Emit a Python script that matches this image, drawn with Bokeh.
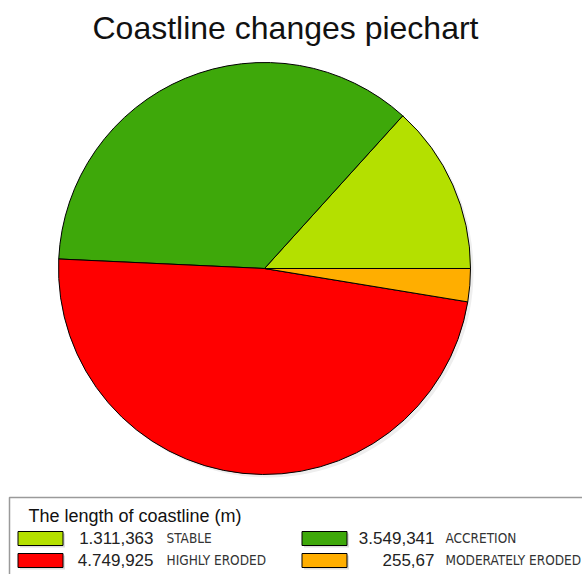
import numpy as np
from bokeh.plotting import figure
from bokeh.models import Range1d, ColumnDataSource
from bokeh.core.properties import value
from bokeh.embed import file_html
from bokeh.resources import INLINE

# ---- data ----
categories = ["STABLE", "ACCRETION", "HIGHLY ERODED", "MODERATELY ERODED"]
lengths = [1311.363, 3549.341, 4749.925, 255.67]
length_labels = ["1.311,363", "3.549,341", "4.749,925", "255,67"]
colors = ["#b4e000", "#3ea80a", "#ff0000", "#ffae00"]
title_text = "Coastline changes piechart"
legend_title = "The length of coastline (m)"

W, H = 582, 574
p = figure(width=W, height=H, output_backend="svg", toolbar_location=None,
           x_range=Range1d(0, W), y_range=Range1d(0, H), min_border=0)
p.axis.visible = False
p.grid.visible = False
p.outline_line_color = None
p.background_fill_color = "white"

# pie
vals = np.array(lengths)
frac = vals / vals.sum()
ends = np.cumsum(frac) * 2 * np.pi
starts = np.concatenate([[0.0], ends[:-1]])
src = ColumnDataSource(dict(start=starts, end=ends, color=colors, cat=categories))
cx, cy, r = 264, 306, 206
# faint shadow
p.wedge(x=cx + 3, y=cy - 3, radius=r, start_angle=0, end_angle=2 * np.pi,
        fill_color="#eeeeee", line_color=None)
p.wedge(x=cx, y=cy, radius=r, start_angle="start", end_angle="end",
        fill_color="color", line_color="black", line_width=1, source=src)

# title
p.text(x=[285], y=[547], text=[title_text], text_font=value("Liberation Sans"),
       text_font_size="32px", text_align="center", text_baseline="middle",
       text_color="#111111")

# legend box
p.quad(left=[9], right=[640], top=[77], bottom=[-30], fill_color=None,
       line_color="#9a9a9a", line_width=1.5)
p.text(x=[28], y=[59], text=[legend_title], text_font=value("Liberation Sans"),
       text_font_size="18px", text_baseline="middle", text_color="#111111")

# legend entries: order stable, accretion / highly eroded, moderately eroded
sw_x = [40, 324, 40, 324]
row_y = [36, 36, 14, 14]
val_x = [153, 434, 153, 434]
lab_x = [166, 445, 166, 445]
lsrc = ColumnDataSource(dict(
    sx=sw_x, sy=row_y, vx=val_x, lx=lab_x, by=[y + 0.5 for y in row_y],
    color=colors, val=length_labels, cat=categories,
    shx=[x + 2 for x in sw_x], shy=[y - 2 for y in row_y]))
p.rect(x="shx", y="shy", width=45, height=14, fill_color="#dddddd",
       line_color=None, source=lsrc)
p.rect(x="sx", y="sy", width=45, height=14, fill_color="color",
       line_color="black", line_width=1, source=lsrc)
p.text(x="vx", y="by", text="val", text_font=value("Liberation Sans"),
       text_font_size="17px", text_align="right", text_baseline="middle",
       text_color="#222222", source=lsrc)
p.text(x="lx", y="by", text="cat",
       text_font=value("'DejaVu Sans Condensed', 'Liberation Sans Narrow', sans-serif"),
       text_font_size="13.5px", text_align="left", text_baseline="middle",
       text_color="#333333", source=lsrc)

open("out.html", "w").write(file_html(p, INLINE))
